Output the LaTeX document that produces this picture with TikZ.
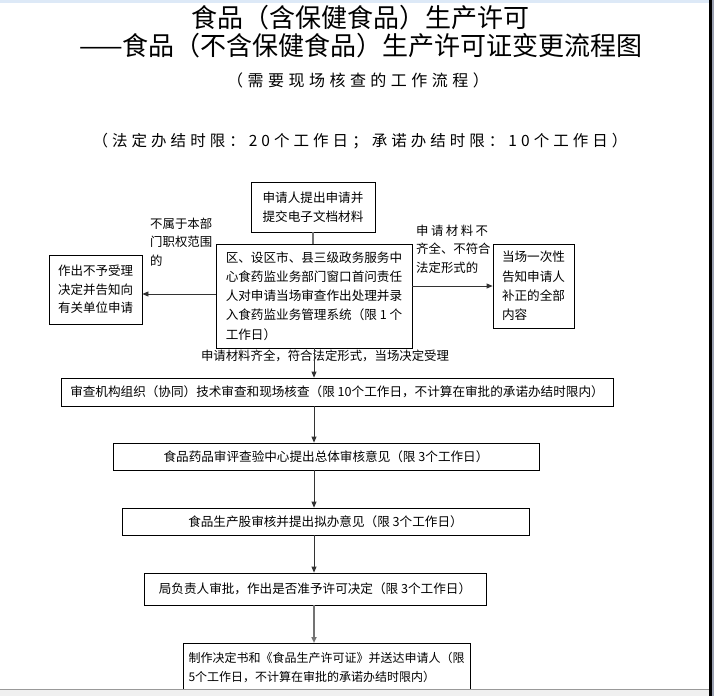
\documentclass[tikz,border=0pt]{standalone}
\usepackage{fontspec}
\setmainfont{Noto Sans CJK SC}
\newfontfamily\kindfont{Noto Sans CJK SC}[LetterSpace=28]
\newfontfamily\limitfont{Noto Sans CJK SC}[LetterSpace=26]
\newfontfamily\widefont{Noto Sans CJK SC}[LetterSpace=20]
\usetikzlibrary{arrows.meta}
\definecolor{topstrip}{RGB}{221,233,247}
\definecolor{sidegray}{RGB}{154,160,176}
\definecolor{bandgray}{RGB}{240,240,240}

\begin{document}
\begin{tikzpicture}[x=1pt,y=-1pt,
        box/.style={draw,line width=0.8pt,inner sep=0pt,font=\fontsize{12.6}{19.2}\selectfont},
        lbl/.style={inner sep=0pt,align=left,font=\fontsize{12.4}{18.5}\selectfont},
        flow/.style={draw=black!80,line width=0.8pt,-{Triangle[length=6pt,width=5pt]}}]
                \useasboundingbox (0,0) rectangle (714,696);
                \node (title) at (360,18) {\fontsize{26}{26}\selectfont 食品（含保健食品）生产许可};
                \node (subtitle) at (361,46) {\fontsize{26}{26}\selectfont ——食品（不含保健食品）生产许可证变更流程图};
                \node (kind) at (358,80) {\kindfont\fontsize{16}{16}\selectfont （需要现场核查的工作流程）};
                \node (limit) at (360,141) {\limitfont\fontsize{15.5}{15.5}\selectfont （法定办结时限：20个工作日；承诺办结时限：10个工作日）};
                \node[box,minimum width=124,minimum height=50,align=center] (apply) at (313,207) {申请人提出申请并\\提交电子文档材料};
                \node[box,minimum width=196,minimum height=104,align=left] (window) at (314,296) {区、设区市、县三级政务服务中\\心食药监业务部门窗口首问责任\\人对申请当场审查作出处理并录\\入食药监业务管理系统（限 1 个\\工作日）};
                \node[box,minimum width=93,minimum height=69,align=center,font=\fontsize{12.5}{18.5}\selectfont] (refuse) at (95.5,289.5) {作出不予受理\\决定并告知向\\有关单位申请};
                \node[box,minimum width=81,minimum height=84,align=left] (notify) at (533.5,286) {当场一次性\\告知申请人\\补正的全部\\内容};
                \node[lbl,anchor=west] (outside) at (150,242) {不属于本部\\门职权范围\\的};
                \node[lbl,anchor=west] (lack) at (416,249) {{\widefont 申请材料不}\\齐全、不符合\\法定形式的};
                \node[lbl] (accept) at (325,356) {申请材料齐全，符合法定形式，当场决定受理};
                \node[box,minimum width=552,minimum height=28] (check) at (337,392) {审查机构组织（协同）技术审查和现场核查（限 10个工作日，不计算在审批的承诺办结时限内）};
                \node[box,minimum width=426,minimum height=27] (center) at (326,456.5) {食品药品审评查验中心提出总体审核意见（限 3个工作日）};
                \node[box,minimum width=407,minimum height=27] (section) at (325.5,521.5) {食品生产股审核并提出拟办意见（限 3个工作日）};
                \node[box,minimum width=342,minimum height=32] (approve) at (315,589) {局负责人审批，作出是否准予许可决定（限 3个工作日）};
                \node[box,minimum width=287,inner ysep=9pt,anchor=north,align=left,font=\fontsize{12}{19}\selectfont] (deliver) at (326.5,643) {制作决定书和《食品生产许可证》并送达申请人（限\\5个工作日，不计算在审批的承诺办结时限内）};
                \coordinate (spine) at (314,0);
                \coordinate (rin) at ([yshift=-4.5pt]refuse.east);
                \draw[draw=black!55,line width=1.2pt] (apply.south) -- (apply.south |- window.north);
                \draw[flow] (window.west |- rin) -- (rin);
                \draw[flow] (window.east |- notify.west) -- (notify.west);
                \draw[flow] (window.south -| spine) -- (check.north -| spine);
                \draw[flow] (check.south -| spine) -- (center.north -| spine);
                \draw[flow] (center.south -| spine) -- (section.north -| spine);
                \draw[flow] (section.south -| spine) -- (approve.north -| spine);
                \draw[flow,draw=black!55,line width=1.6pt] (approve.south -| spine) -- (deliver.north -| spine);
                \fill[topstrip] (0,0) rectangle (714,2.5);
                \fill[black] (708.5,0) rectangle (711.5,696);
                \fill[sidegray] (711.5,0) rectangle (714,696);
                \fill[bandgray] (0,689) rectangle (708.5,696);
                \draw[black!40] (0,689) -- (708.5,689);
            \end{tikzpicture}
\end{document}
